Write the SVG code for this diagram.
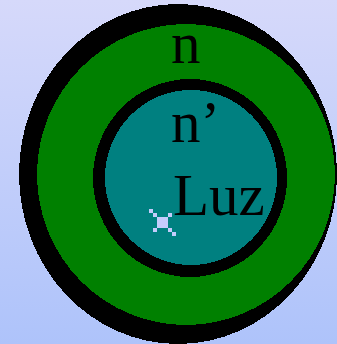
<svg xmlns="http://www.w3.org/2000/svg" width="337" height="344" viewBox="0 0 337 344">
<defs>
<linearGradient id="bg" x1="0" y1="0" x2="0" y2="1">
<stop offset="0" stop-color="#d6d9fa"/>
<stop offset="1" stop-color="#aec3fa"/>
</linearGradient>
</defs>
<style>
.s{shape-rendering:crispEdges}
.t{font-family:"Liberation Serif","Times New Roman",serif;font-size:59px;fill:#000}
.m{fill:#c4ccfc}
</style>
<rect width="337" height="344" fill="url(#bg)"/>
<g id="outer">
<ellipse class="s" cx="178" cy="174" rx="159" ry="170" fill="#000"/>
<ellipse class="s" cx="186" cy="174.5" rx="149" ry="150.5" fill="#008000"/>
<text class="t" x="171" y="63">n</text>
</g>
<g id="inner">
<ellipse class="s" cx="190" cy="178" rx="97" ry="99" fill="#000"/>
<ellipse class="s" cx="191" cy="177.5" rx="86" ry="87.5" fill="#008080"/>
<text class="t" x="171" y="142">n’</text>
</g>
<g id="luz">
<text class="t" x="173" y="215">Luz</text>
<g class="s m">
<rect x="157" y="217" width="11" height="11"/>
<rect x="149" y="209" width="4" height="4"/>
<rect x="153" y="213" width="4" height="4"/>
<rect x="168" y="213" width="4" height="4"/>
<rect x="153" y="228" width="4" height="4"/>
<rect x="168" y="228" width="4" height="4"/>
<rect x="172" y="232" width="4" height="4"/>
</g>
</g>
</svg>
